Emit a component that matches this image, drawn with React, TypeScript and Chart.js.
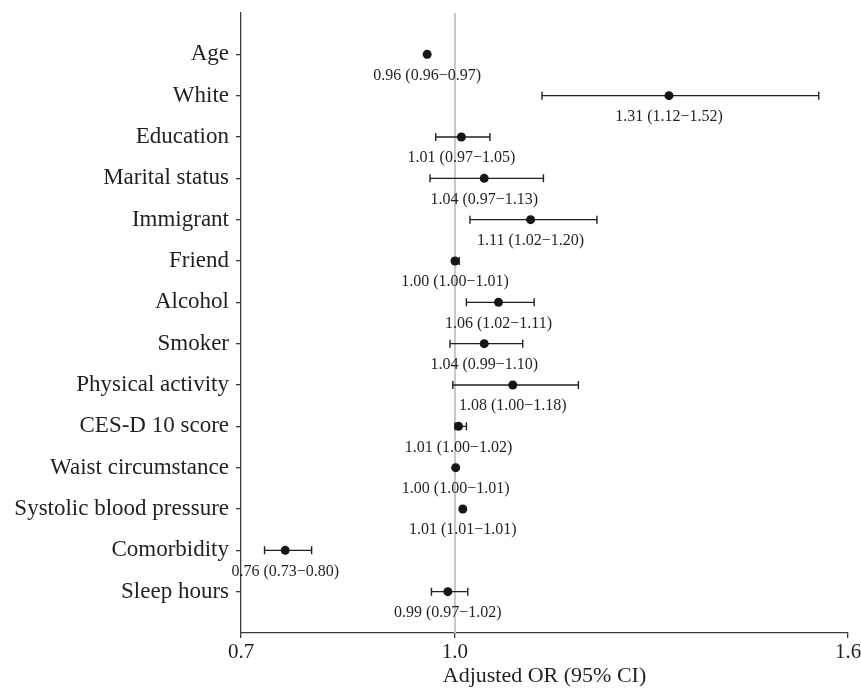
import React, { useEffect, useRef } from 'react';
import { Chart, registerables } from 'chart.js';

Chart.register(...registerables);

const VARIABLES = [
  'Age',
  'White',
  'Education',
  'Marital status',
  'Immigrant',
  'Friend',
  'Alcohol',
  'Smoker',
  'Physical activity',
  'CES-D 10 score',
  'Waist circumstance',
  'Systolic blood pressure',
  'Comorbidity',
  'Sleep hours',
];

const ODDS_RATIO = [0.961, 1.300, 1.009, 1.041, 1.106, 1.000, 1.061, 1.041, 1.081, 1.005, 1.001, 1.011, 0.762, 0.990];
const CI_LOW = [0.959, 1.122, 0.973, 0.965, 1.021, 0.998, 1.016, 0.993, 0.997, 1.000, 1.000, 1.009, 0.733, 0.967];
const CI_HIGH = [0.963, 1.510, 1.049, 1.124, 1.199, 1.006, 1.111, 1.095, 1.173, 1.016, 1.003, 1.013, 0.799, 1.018];

const OR_LABELS = [
  '0.96 (0.96\u22120.97)',
  '1.31 (1.12\u22121.52)',
  '1.01 (0.97\u22121.05)',
  '1.04 (0.97\u22121.13)',
  '1.11 (1.02\u22121.20)',
  '1.00 (1.00\u22121.01)',
  '1.06 (1.02\u22121.11)',
  '1.04 (0.99\u22121.10)',
  '1.08 (1.00\u22121.18)',
  '1.01 (1.00\u22121.02)',
  '1.00 (1.00\u22121.01)',
  '1.01 (1.01\u22121.01)',
  '0.76 (0.73\u22120.80)',
  '0.99 (0.97\u22121.02)',
];

const X_MIN = 0.7;
const X_MAX = 1.551;
const X_TICKS = [0.7, 1.0, 1.551];
const REF_VALUE = 1.0;
const X_TITLE = 'Adjusted OR (95% CI)';

const FONT = "'Liberation Serif', 'Times New Roman', serif";
const TEXT_COLOR = '#231f20';
const AXIS_COLOR = '#3a3a3a';

const forestPlugin = {
  id: 'forest',
  beforeDatasetsDraw(chart: any) {
    const { ctx, chartArea, scales } = chart;
    const x = scales.x;
    const y = scales.y;
    ctx.save();
    const rx = x.getPixelForValue(REF_VALUE);
    ctx.strokeStyle = '#c8c8c8';
    ctx.lineWidth = 2;
    ctx.beginPath();
    ctx.moveTo(rx, chartArea.top);
    ctx.lineTo(rx, chartArea.bottom);
    ctx.stroke();
    ctx.strokeStyle = '#231f20';
    ctx.lineWidth = 1.4;
    VARIABLES.forEach((_, i) => {
      const py = y.getPixelForValue(i + 1);
      const x0 = x.getPixelForValue(CI_LOW[i]);
      const x1 = x.getPixelForValue(CI_HIGH[i]);
      ctx.beginPath();
      ctx.moveTo(x0, py);
      ctx.lineTo(x1, py);
      ctx.moveTo(x0, py - 4);
      ctx.lineTo(x0, py + 4);
      ctx.moveTo(x1, py - 4);
      ctx.lineTo(x1, py + 4);
      ctx.stroke();
    });
    ctx.restore();
  },
  afterDatasetsDraw(chart: any) {
    const { ctx, scales } = chart;
    const x = scales.x;
    const y = scales.y;
    ctx.save();
    ctx.font = `16px ${FONT}`;
    ctx.fillStyle = TEXT_COLOR;
    ctx.textAlign = 'center';
    ctx.textBaseline = 'middle';
    VARIABLES.forEach((_, i) => {
      const py = y.getPixelForValue(i + 1);
      const px = x.getPixelForValue(ODDS_RATIO[i]);
      ctx.fillText(OR_LABELS[i], px, py + 21);
    });
    ctx.restore();
  },
};

export default function App() {
  const canvasRef = useRef<HTMLCanvasElement | null>(null);

  useEffect(() => {
    const canvas = canvasRef.current;
    if (!canvas) return;
    const chart = new Chart(canvas, {
      type: 'scatter',
      data: {
        datasets: [
          {
            data: ODDS_RATIO.map((v, i) => ({ x: v, y: i + 1 })),
            backgroundColor: '#1a1414',
            borderColor: '#1a1414',
            borderWidth: 0,
            pointRadius: 4.5,
            pointHoverRadius: 4.5,
          },
        ],
      },
      options: {
        responsive: false,
        animation: false,
        events: [],
        layout: { padding: { top: 13, right: 13, left: 0, bottom: 0 } },
        plugins: {
          legend: { display: false },
          tooltip: { enabled: false },
        },
        scales: {
          x: {
            type: 'linear',
            min: X_MIN,
            max: X_MAX,
            afterBuildTicks: (scale: any) => {
              scale.ticks = X_TICKS.map((v) => ({ value: v }));
            },
            afterFit: (scale: any) => {
              scale.height = 56;
              scale.paddingLeft = 0;
              scale.paddingRight = 0;
            },
            ticks: {
              font: { family: FONT, size: 21 },
              color: TEXT_COLOR,
              padding: 2,
              maxRotation: 0,
              autoSkip: false,
              callback: (v: any) => Number(v).toFixed(1),
            },
            grid: {
              drawOnChartArea: false,
              drawTicks: true,
              tickLength: 5,
              color: AXIS_COLOR,
              lineWidth: 1.3,
            },
            border: { color: AXIS_COLOR, width: 1.3 },
            title: {
              display: true,
              text: X_TITLE,
              font: { family: FONT, size: 22 },
              color: TEXT_COLOR,
              padding: { top: 0, bottom: 0 },
            },
          },
          y: {
            type: 'linear',
            min: 0,
            max: VARIABLES.length + 1,
            reverse: true,
            afterBuildTicks: (scale: any) => {
              scale.ticks = VARIABLES.map((_, i) => ({ value: i + 1 }));
            },
            afterFit: (scale: any) => {
              scale.width = 241;
              scale.paddingTop = 0;
              scale.paddingBottom = 0;
            },
            ticks: {
              font: { family: FONT, size: 23 },
              color: TEXT_COLOR,
              padding: 7,
              autoSkip: false,
              callback: (v: any) => VARIABLES[Number(v) - 1] ?? '',
            },
            grid: {
              drawOnChartArea: false,
              drawTicks: true,
              tickLength: 5,
              color: AXIS_COLOR,
              lineWidth: 1.3,
            },
            border: { color: AXIS_COLOR, width: 1.3 },
          },
        },
      },
      plugins: [forestPlugin],
    });
    if ((document as any).fonts && (document as any).fonts.ready) {
      (document as any).fonts.ready.then(() => chart.update());
    }
    return () => chart.destroy();
  }, []);

  return (
    <div style={{ position: 'fixed', left: 0, top: 0, width: 861, height: 689, background: '#fff' }}>
      <canvas ref={canvasRef} width={861} height={689} style={{ display: 'block' }} />
    </div>
  );
}
